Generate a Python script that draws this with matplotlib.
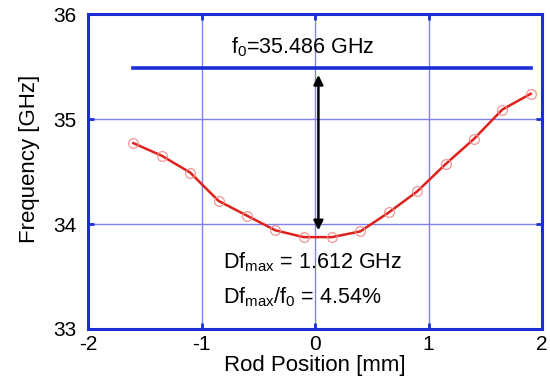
import numpy as np
import matplotlib.pyplot as plt

plt.rcParams['font.family'] = ['Liberation Sans', 'DejaVu Sans']
plt.rcParams['mathtext.fontset'] = 'custom'
plt.rcParams['mathtext.rm'] = 'Liberation Sans'
plt.rcParams['mathtext.default'] = 'regular'
plt.rcParams['axes.unicode_minus'] = False

# Dados
rod_pos = [-1.6, -1.35, -1.1, -0.85, -0.6, -0.35, -0.1, 0.15, 0.4, 0.65, 0.9, 1.15, 1.4, 1.65, 1.9]
freq = [34.77, 34.65, 34.49, 34.22, 34.08, 33.94, 33.875, 33.875, 33.93, 34.11, 34.31, 34.57, 34.81, 35.09, 35.24]
f0 = 35.486
f_min = 33.94
x_ticks = [-2, -1, 0, 1, 2]
y_ticks = [33, 34, 35, 36]

blue = '#1a2fd6'

fig = plt.figure(figsize=(5.5, 3.83), dpi=100)
ax = fig.add_axes([0.16, 0.141, 0.8255, 0.8224])

ax.set_xlim(-2, 2)
ax.set_ylim(33, 36)
ax.set_xticks(x_ticks)
ax.set_yticks(y_ticks)
ax.grid(True, color='#8080f0', linewidth=1.0)
ax.set_axisbelow(True)

for s in ax.spines.values():
    s.set_color(blue)
    s.set_linewidth(2.2)
ax.tick_params(direction='in', length=4, width=2, color=blue, labelsize=15,
               top=True, right=True)
ax.tick_params(axis='x', pad=4)
ax.tick_params(axis='y', pad=8)

# Curva medida
ax.plot(rod_pos, freq, color='#e0201a', linewidth=1.8, zorder=3)
ax.plot(rod_pos, freq, 'o', markerfacecolor='none', markeredgecolor='#f08a8a',
        markersize=7, markeredgewidth=0.8, zorder=4)

# Linha f0
ax.plot([rod_pos[0], rod_pos[-1]], [f0, f0], color=blue, linewidth=2.6, zorder=3)
ax.text(-0.74, 35.68, 'f$_0$=35.486 GHz', fontsize=15.5, va='center', ha='left')

# Seta dupla
ax.annotate('', xy=(0.03, 35.42), xytext=(0.03, f_min),
            arrowprops=dict(arrowstyle='<|-|>', color='black', lw=1.8,
                            mutation_scale=14, shrinkA=0, shrinkB=0), zorder=5)

ax.text(-0.81, 33.64, 'Df$_{max}$ = 1.612 GHz', fontsize=15.5, va='center', ha='left')
ax.text(-0.81, 33.30, 'Df$_{max}$/f$_0$ = 4.54%', fontsize=15.5, va='center', ha='left')

ax.set_xlabel('Rod Position [mm]', fontsize=16, labelpad=1)
ax.set_ylabel('Frequency [GHz]', fontsize=16)
ax.yaxis.set_label_coords(-0.105, 0.54)

fig.savefig('out.png', dpi=100)
